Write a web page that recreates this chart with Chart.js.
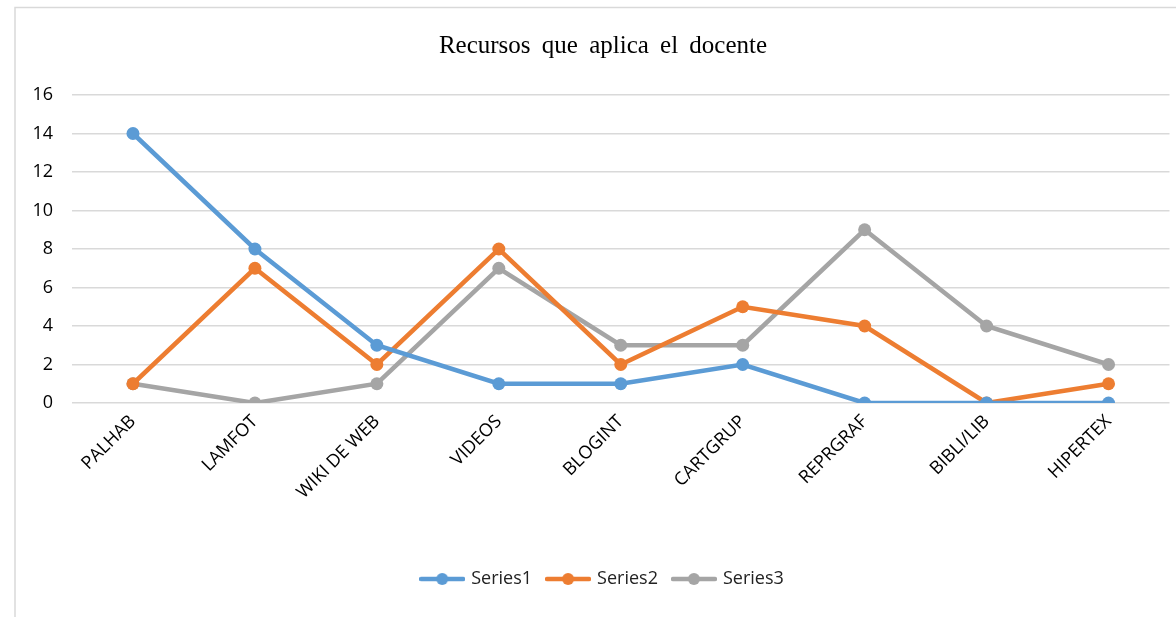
<!DOCTYPE html>
<html>
<head>
<meta charset="utf-8">
<script src="https://cdn.jsdelivr.net/npm/chart.js@4/dist/chart.umd.min.js"></script>
<style>
  html, body { margin: 0; padding: 0; background: #fff; }
  #wrap { position: relative; width: 1176px; height: 617px; }
</style>
</head>
<body>
<div id="wrap"><canvas id="c" width="1176" height="617"></canvas></div>
<script>
const title = "Recursos que aplica el docente";
const categories = ["PALHAB", "LAMFOT", "WIKI DE WEB", "VIDEOS", "BLOGINT", "CARTGRUP", "REPRGRAF", "BIBLI/LIB", "HIPERTEX"];
const seriesNames = ["Series1", "Series2", "Series3"];
const series1 = [14, 8, 3, 1, 1, 2, 0, 0, 0];
const series2 = [1, 7, 2, 8, 2, 5, 4, 0, 1];
const series3 = [1, 0, 1, 7, 3, 3, 9, 4, 2];
const yTicks = [0, 2, 4, 6, 8, 10, 12, 14, 16];
const colors = ["#5B9BD5", "#ED7D31", "#A5A5A5"];

function legendMarker(color) {
  const cv = document.createElement('canvas');
  cv.width = 46; cv.height = 14;
  const g = cv.getContext('2d');
  g.strokeStyle = color; g.lineWidth = 4.5; g.lineCap = 'round';
  g.beginPath(); g.moveTo(2, 7); g.lineTo(44, 7); g.stroke();
  g.fillStyle = color;
  g.beginPath(); g.arc(23, 7, 6, 0, Math.PI * 2); g.fill();
  return cv;
}

const borderPlugin = {
  id: 'outerBorder',
  beforeDraw(chart) {
    const ctx = chart.ctx;
    ctx.save();
    ctx.strokeStyle = '#d9d9d9';
    ctx.lineWidth = 1.5;
    ctx.strokeRect(15, 7.5, 1176, 700);
    ctx.restore();
  }
};

const datasets = [series1, series2, series3].map((d, i) => ({
  label: seriesNames[i],
  data: d,
  borderColor: colors[i],
  backgroundColor: colors[i],
  borderWidth: 4.5,
  pointRadius: 6.5,
  pointHoverRadius: 6.5,
  pointBackgroundColor: colors[i],
  pointBorderWidth: 0,
  pointStyle: 'circle',
  _legendImg: legendMarker(colors[i]),
  tension: 0
}));

const chart = new Chart(document.getElementById('c'), {
  type: 'line',
  data: { labels: categories, datasets },
  plugins: [borderPlugin],
  options: {
    responsive: false,
    animation: false,
    layout: { padding: { left: 30, right: 0, top: 0, bottom: 19 } },
    plugins: {
      title: {
        display: true,
        text: title,
        color: '#000',
        font: { family: 'Liberation Serif', size: 25, weight: 'normal' },
        padding: { top: 31, bottom: 34 }
      },
      legend: {
        position: 'bottom',
        labels: {
          color: '#222',
          font: { family: 'Open Sans', size: 18 },
          usePointStyle: true,
          pointStyleWidth: 40,
          padding: 16,
          generateLabels(chart) {
            return chart.data.datasets.map((ds, i) => ({
              text: ds.label,
              fillStyle: ds.borderColor,
              strokeStyle: ds.borderColor,
              lineWidth: 0,
              pointStyle: ds._legendImg,
              hidden: false,
              datasetIndex: i,
              fontColor: '#222'
            }));
          }
        }
      },
      tooltip: { enabled: false }
    },
    scales: {
      x: {
        offset: true,
        grid: { display: false, drawTicks: false },
        border: { display: false },
        ticks: {
          color: '#000',
          font: { family: 'Open Sans', size: 18 },
          minRotation: 45, maxRotation: 45,
          padding: 8
        },
        afterFit(scale) { scale.height = 151; }
      },
      y: {
        min: 0, max: 16,
        afterBuildTicks(scale) { scale.ticks = yTicks.map(v => ({ value: v })); },
        grid: { color: '#d9d9d9', lineWidth: 1.5, drawTicks: false },
        border: { display: false },
        ticks: {
          color: '#000',
          font: { family: 'Open Sans', size: 18 },
          padding: 19
        },
        afterFit(scale) { scale.width = 42; }
      },
      yRight: {
        position: 'right',
        display: true,
        min: 0, max: 16,
        grid: { display: false, drawTicks: false },
        border: { display: false },
        ticks: { display: false },
        afterFit(scale) { scale.width = 6; }
      }
    }
  }
});

// Wider word spacing for the title, as in the reference
const tb = chart.titleBlock;
if (tb) {
  const origDraw = tb.draw.bind(tb);
  tb.draw = function () {
    const ctx = chart.ctx;
    ctx.save();
    ctx.wordSpacing = '5px';
    origDraw();
    ctx.restore();
  };
  chart.draw();
}
</script>
</body>
</html>
